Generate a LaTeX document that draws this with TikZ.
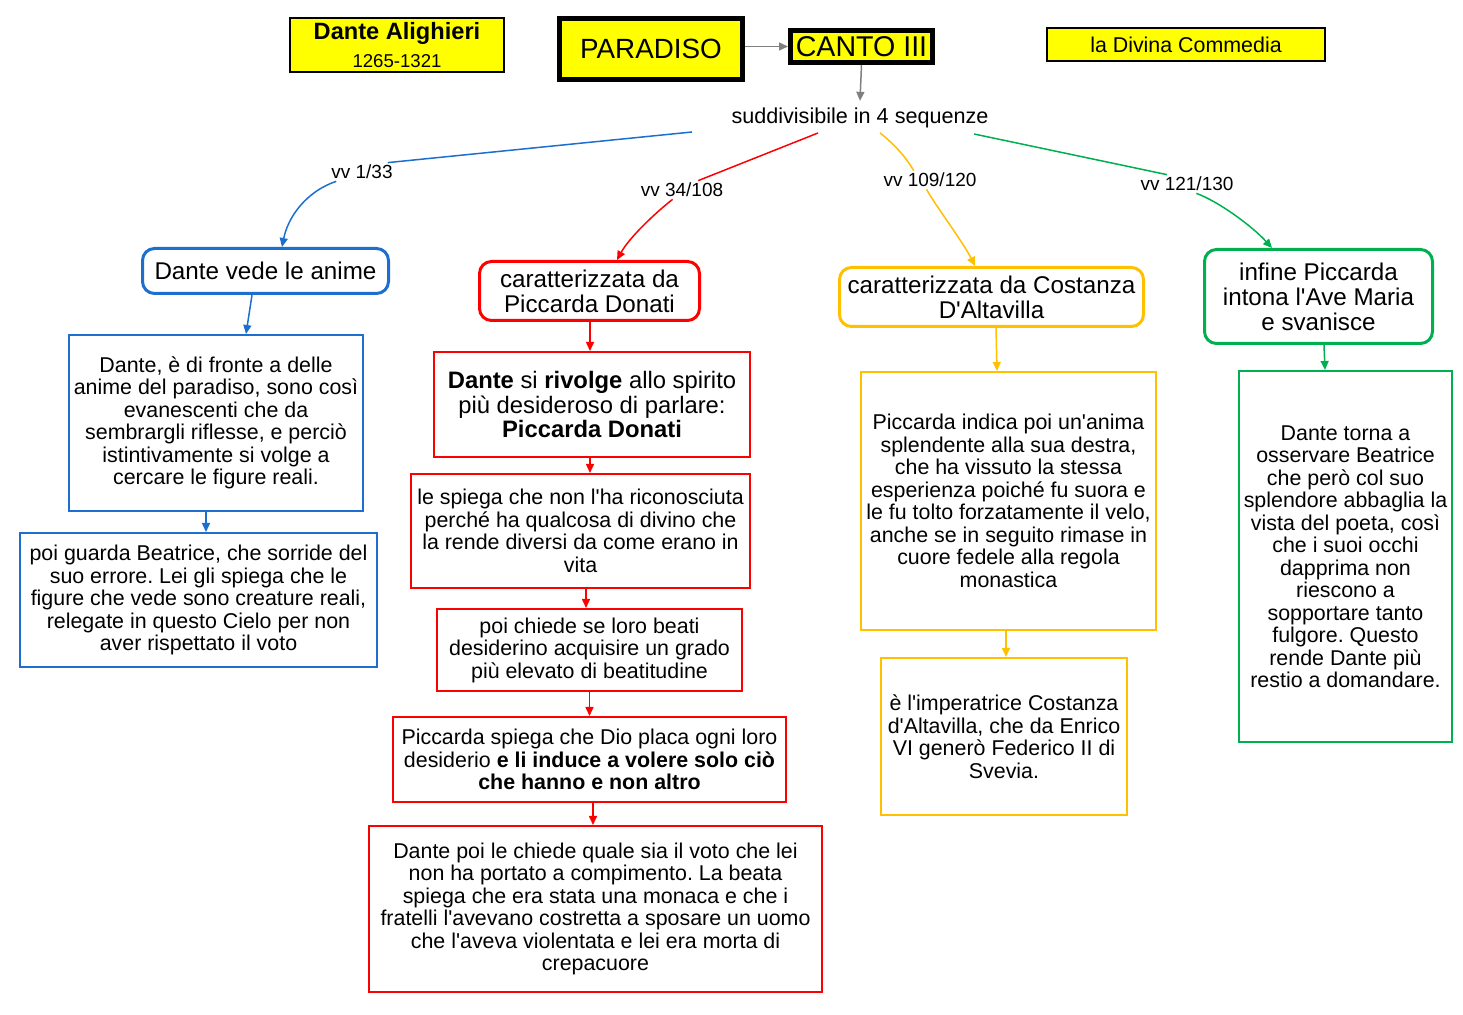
\documentclass[tikz,border=0pt]{standalone}
\usepackage{fontspec}
\setmainfont{Liberation Sans}[Ligatures=TeXOff]
\usetikzlibrary{arrows.meta}
\frenchspacing
\definecolor{dcblue}{HTML}{1C6ECF}
\definecolor{dcred}{HTML}{FF0000}
\definecolor{dcyel}{HTML}{FFC000}
\definecolor{dcgreen}{HTML}{00B050}
\definecolor{dcgray}{HTML}{808080}
\definecolor{dcfill}{HTML}{FFFF00}
\newcommand{\DCarr}[5]{\draw[arr=#1] ([xshift=#3]#2.south) -- ([xshift=#5]#4.north);}
\tikzset{
  tbox/.style={draw=black,fill=dcfill,line width=1pt,inner sep=0pt,align=center},
  kbox/.style={draw=black,fill=dcfill,line width=2.5pt,inner sep=0pt},
  rbox/.style={draw=#1,line width=1.5pt,rounded corners=6pt,inner sep=0pt,align=center,font=\fontsize{12.1}{12.5}\selectfont},
  sbox/.style={draw=#1,line width=1pt,inner sep=0pt,align=center,font=\fontsize{10.7}{11.25}\selectfont},
  lab/.style={font=\fontsize{9.5}{11}\selectfont,inner sep=1pt},
  arr/.style={draw=#1,line width=0.75pt,-{Triangle[length=4.5pt,width=4pt]}},
  lin/.style={draw=#1,line width=0.75pt}
}

\begin{document}
\begin{tikzpicture}[x=0.5pt,y=-0.5pt]
  \useasboundingbox (0,0) rectangle (1463,1015);
  \node[tbox,minimum width=107pt,minimum height=27pt] (dante) at (397,45)
    {{\bfseries\fontsize{11.8}{13}\selectfont Dante Alighieri}\\[2pt]{\fontsize{9.3}{10}\selectfont 1265-1321}};
  \node[kbox,minimum width=91.5pt,minimum height=30.5pt,font=\fontsize{13.9}{15}\selectfont] (paradiso) at (651,49) {PARADISO};
  \node[kbox,minimum width=71pt,minimum height=16pt,font=\fontsize{14.3}{15}\selectfont] (canto) at (861.5,46.5) {CANTO III};
  \node[tbox,minimum width=139pt,minimum height=16.5pt,font=\fontsize{10.7}{12}\selectfont] (divina) at (1186,45) {la Divina Commedia};
  \node[font=\fontsize{10.8}{12}\selectfont] (sud) at (860,118) {suddivisibile in 4 sequenze};
  \draw[arr=dcgray] (paradiso.east |- canto) -- (canto.west);
  \draw[arr=dcgray] (canto.south) -- (sud.north);

  \node[rbox=dcblue,minimum width=123pt,minimum height=22.5pt] (anime) at (265.5,271) {Dante vede le anime};
  \node[rbox=dcred,minimum width=110pt,minimum height=29.5pt] (piccarda) at (589.5,291) {caratterizzata da\\Piccarda Donati};
  \node[rbox=dcyel,minimum width=152pt,minimum height=29.5pt] (costanza) at (991.5,297) {caratterizzata da Costanza\\D'Altavilla};
  \node[rbox=dcgreen,minimum width=114pt,minimum height=47pt] (infine) at (1318.5,296.5) {infine Piccarda\\intona l'Ave Maria\\e svanisce};

  \coordinate (s1) at (692,132);
  \coordinate (s2) at (818,133);
  \coordinate (s3) at (880,133);
  \coordinate (s4) at (974,134);
  \node[lab] (l1) at (362,172) {vv 1/33};
  \node[lab] (l2) at (682,190) {vv 34/108};
  \node[lab] (l3) at (930,180) {vv 109/120};
  \node[lab] (l4) at (1187,184) {vv 121/130};
  \draw[lin=dcblue] (s1) -- (l1.20);
  \draw[arr=dcblue] (l1.-160) .. controls +(-30,10) and +(6,-30) .. ([xshift=8.25pt]anime.north);
  \draw[lin=dcred] (s2) -- (l2.30);
  \draw[arr=dcred] (l2.-135) .. controls +(-18,14) and +(12,-22) .. ([xshift=13.75pt]piccarda.north);
  \draw[lin=dcyel] (s3) .. controls +(18,14) and +(-6,-10) .. (l3.150);
  \draw[arr=dcyel] (l3.-110) .. controls +(6,12) and +(-12,-24) .. ([xshift=-8.25pt]costanza.north);
  \draw[lin=dcgreen] (s4) -- (l4.155);
  \draw[arr=dcgreen] (l4.-45) .. controls +(22,8) and +(-20,-22) .. ([xshift=-23.25pt]infine.north);

  \node[sbox=dcblue,minimum width=147pt,minimum height=88pt] (b1) at (216,423)
    {Dante, è di fronte a delle\\anime del paradiso, sono così\\evanescenti che da\\sembrargli riflesse, e perciò\\istintivamente si volge a\\cercare le figure reali.};
  \node[sbox=dcblue,minimum width=178.5pt,minimum height=67pt] (b2) at (198.5,600)
    {poi guarda Beatrice, che sorride del\\suo errore. Lei gli spiega che le\\figure che vede sono creature reali,\\relegate in questo Cielo per non\\aver rispettato il voto};
  \node[sbox=dcred,minimum width=158pt,minimum height=52.5pt,font=\fontsize{11.9}{12.25}\selectfont] (r1) at (592,404.5)
    {\textbf{Dante} si \textbf{rivolge} allo spirito\\più desideroso di parlare:\\\textbf{Piccarda Donati}};
  \node[sbox=dcred,minimum width=169.5pt,minimum height=57pt] (r2) at (580.5,531)
    {le spiega che non l'ha riconosciuta\\perché ha qualcosa di divino che\\la rende diversi da come erano in\\vita};
  \node[sbox=dcred,minimum width=152.5pt,minimum height=41pt] (r3) at (589.5,650)
    {poi chiede se loro beati\\desiderino acquisire un grado\\più elevato di beatitudine};
  \node[sbox=dcred,minimum width=196.5pt,minimum height=42.5pt] (r4) at (589.5,759.5)
    {Piccarda spiega che Dio placa ogni loro\\desiderio \textbf{e li induce a volere solo ciò}\\\textbf{che hanno e non altro}};
  \node[sbox=dcred,minimum width=226.5pt,minimum height=83pt] (r5) at (595.5,909)
    {Dante poi le chiede quale sia il voto che lei\\non ha portato a compimento. La beata\\spiega che era stata una monaca e che i\\fratelli l'avevano costretta a sposare un uomo\\che l'aveva violentata e lei era morta di\\crepacuore};
  \node[sbox=dcyel,minimum width=147.5pt,minimum height=129pt] (y1) at (1008.5,501)
    {Piccarda indica poi un'anima\\splendente alla sua destra,\\che ha vissuto la stessa\\esperienza poiché fu suora e\\le fu tolto forzatamente il velo,\\anche se in seguito rimase in\\cuore fedele alla regola\\monastica};
  \node[sbox=dcyel,minimum width=123pt,minimum height=78.5pt] (y2) at (1004,736.5)
    {è l'imperatrice Costanza\\d'Altavilla, che da Enrico\\VI generò Federico II di\\Svevia.};
  \node[sbox=dcgreen,minimum width=106.5pt,minimum height=185.5pt] (g1) at (1345.5,556.5)
    {Dante torna a\\osservare Beatrice\\che però col suo\\splendore abbaglia la\\vista del poeta, così\\che i suoi occhi\\dapprima non\\riescono a\\sopportare tanto\\fulgore. Questo\\rende Dante più\\restio a domandare.};

  \DCarr{dcblue}{anime}{-6.75pt}{b1}{15pt}
  \DCarr{dcblue}{b1}{-5pt}{b2}{3.75pt}
  \DCarr{dcred}{piccarda}{0.25pt}{r1}{-1pt}
  \DCarr{dcred}{r1}{-1pt}{r2}{4.75pt}
  \DCarr{dcred}{r2}{2.75pt}{r3}{-1.75pt}
  \DCarr{dcred}{r3}{0pt}{r4}{0pt}
  \DCarr{dcred}{r4}{1.75pt}{r5}{-1.25pt}
  \DCarr{dcyel}{costanza}{2.25pt}{y1}{-5.75pt}
  \DCarr{dcyel}{y1}{-1.25pt}{y2}{1pt}
  \DCarr{dcgreen}{infine}{2.75pt}{g1}{-10.25pt}
\end{tikzpicture}
\end{document}
